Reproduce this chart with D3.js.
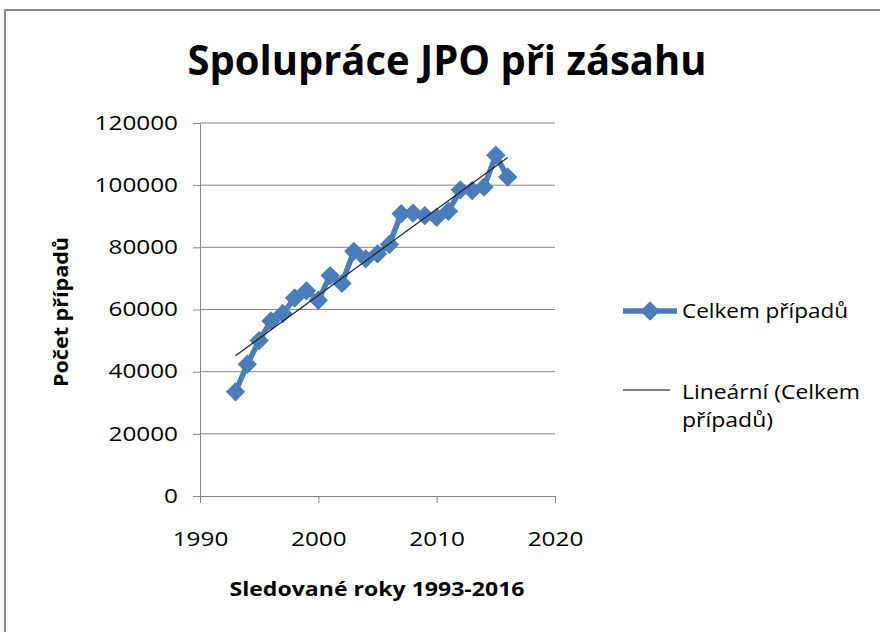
<!DOCTYPE html>
<html>
<head>
<meta charset="utf-8">
<script src="https://cdn.jsdelivr.net/npm/d3@7"></script>
<style>
  body { margin: 0; background: #fff; }
  text { font-family: "Open Sans", "Noto Sans", sans-serif; fill: #000; }
</style>
</head>
<body>
<script>
// data
var years = [1993, 1994, 1995, 1996, 1997, 1998, 1999, 2000, 2001, 2002, 2003, 2004,
             2005, 2006, 2007, 2008, 2009, 2010, 2011, 2012, 2013, 2014, 2015, 2016];
var cases = [33500, 42400, 50000, 56300, 58700, 63700, 66000, 63000, 70900, 68400, 78700, 76300,
             77900, 80900, 90800, 91000, 90200, 89700, 91600, 98500, 98300, 99400, 109600, 102600];
var xTicks = [1990, 2000, 2010, 2020];
var yTicks = [0, 20000, 40000, 60000, 80000, 100000, 120000];

var seriesName = "Celkem případů";
var trendName = ["Lineární (Celkem", "případů)"];

var W = 880, H = 632;
var blue = "#4a7ebb", grid = "#868686";
var charW = 13.9; // the picture is a bit stretched sideways

var svg = d3.select("body").append("svg")
    .attr("width", W)
    .attr("height", H);

// chart area border
svg.append("rect")
    .attr("x", 5).attr("y", 10)
    .attr("width", 900).attr("height", 700)
    .attr("fill", "#fff")
    .attr("stroke", "#8a8a8a")
    .attr("stroke-width", 2);

var x = d3.scaleLinear().domain([1990, 2020]).range([200, 555]);
var y = d3.scaleLinear().domain([0, 120000]).range([496, 123]);

// gridlines
svg.append("g").selectAll("line")
    .data(yTicks.filter(function(d) { return d > 0; }))
    .enter().append("line")
    .attr("x1", x(1990)).attr("x2", x(2020))
    .attr("y1", function(d) { return y(d); })
    .attr("y2", function(d) { return y(d); })
    .attr("stroke", grid).attr("stroke-width", 1);

// axes
var yAxis = svg.append("g")
    .attr("transform", "translate(" + x(1990) + ",0)")
    .call(d3.axisLeft(y).tickValues(yTicks).tickSize(7).tickPadding(15).tickFormat(d3.format("d")));
var xAxis = svg.append("g")
    .attr("transform", "translate(0," + y(0) + ")")
    .call(d3.axisBottom(x).tickValues(xTicks).tickSize(7).tickPadding(29).tickFormat(d3.format("d")));

[xAxis, yAxis].forEach(function(a) {
    a.select(".domain").attr("stroke", grid);
    a.selectAll(".tick line").attr("stroke", grid);
    a.selectAll(".tick text")
        .style("font-family", "'Open Sans', sans-serif")
        .style("font-size", "19.5px")
        .attr("textLength", function(d) { return String(d).length * charW; })
        .attr("lengthAdjust", "spacingAndGlyphs")
        .attr("fill", "#222");
});

// series line + diamond markers
var line = d3.line()
    .x(function(d, i) { return x(years[i]); })
    .y(function(d) { return y(d); });

svg.append("path")
    .datum(cases)
    .attr("d", line)
    .attr("fill", "none")
    .attr("stroke", blue)
    .attr("stroke-width", 5.5)
    .attr("stroke-linejoin", "round");

var diamond = d3.symbol().type(d3.symbolDiamond2).size(240);
svg.append("g").selectAll("path")
    .data(cases)
    .enter().append("path")
    .attr("d", diamond)
    .attr("transform", function(d, i) { return "translate(" + x(years[i]) + "," + y(d) + ")"; })
    .attr("fill", blue);

// linear trend (least squares)
var mx = d3.mean(years), my = d3.mean(cases);
var sxy = d3.sum(years, function(v, i) { return (v - mx) * (cases[i] - my); });
var sxx = d3.sum(years, function(v) { return (v - mx) * (v - mx); });
var slope = sxy / sxx, icpt = my - slope * mx;
var x0 = d3.min(years), x1 = d3.max(years);
svg.append("line")
    .attr("x1", x(x0)).attr("y1", y(icpt + slope * x0))
    .attr("x2", x(x1)).attr("y2", y(icpt + slope * x1))
    .attr("stroke", "#222")
    .attr("stroke-width", 1.2);

// title
svg.append("text")
    .attr("x", 447).attr("y", 75)
    .attr("text-anchor", "middle")
    .attr("textLength", 519)
    .attr("lengthAdjust", "spacingAndGlyphs")
    .style("font-size", "42px")
    .style("font-weight", "bold")
    .text("Spolupráce JPO při zásahu");

// axis titles
svg.append("text")
    .attr("x", 377).attr("y", 596)
    .attr("text-anchor", "middle")
    .attr("textLength", 295)
    .attr("lengthAdjust", "spacingAndGlyphs")
    .style("font-size", "20px")
    .style("font-weight", "bold")
    .text("Sledované roky 1993-2016");

svg.append("text")
    .attr("transform", "translate(68,312) rotate(-90)")
    .attr("text-anchor", "middle")
    .attr("textLength", 150)
    .attr("lengthAdjust", "spacingAndGlyphs")
    .style("font-size", "20px")
    .style("font-weight", "bold")
    .text("Počet případů");

// legend
var lg = svg.append("g");
lg.append("line")
    .attr("x1", 623).attr("x2", 677).attr("y1", 311).attr("y2", 311)
    .attr("stroke", blue).attr("stroke-width", 5.5);
lg.append("path")
    .attr("d", diamond)
    .attr("transform", "translate(650,311)")
    .attr("fill", blue);
lg.append("text")
    .attr("x", 682).attr("y", 318)
    .attr("textLength", 166)
    .attr("lengthAdjust", "spacingAndGlyphs")
    .style("font-size", "19.5px")
    .attr("fill", "#222")
    .text(seriesName);

lg.append("line")
    .attr("x1", 623).attr("x2", 670).attr("y1", 390).attr("y2", 390)
    .attr("stroke", "#000").attr("stroke-width", 1);
lg.selectAll("text.trend")
    .data(trendName)
    .enter().append("text")
    .attr("class", "trend")
    .attr("x", 682)
    .attr("y", function(d, i) { return 399 + i * 28; })
    .attr("textLength", function(d, i) { return [178, 91][i]; })
    .attr("lengthAdjust", "spacingAndGlyphs")
    .style("font-size", "19.5px")
    .attr("fill", "#222")
    .text(function(d) { return d; });
</script>
</body>
</html>
